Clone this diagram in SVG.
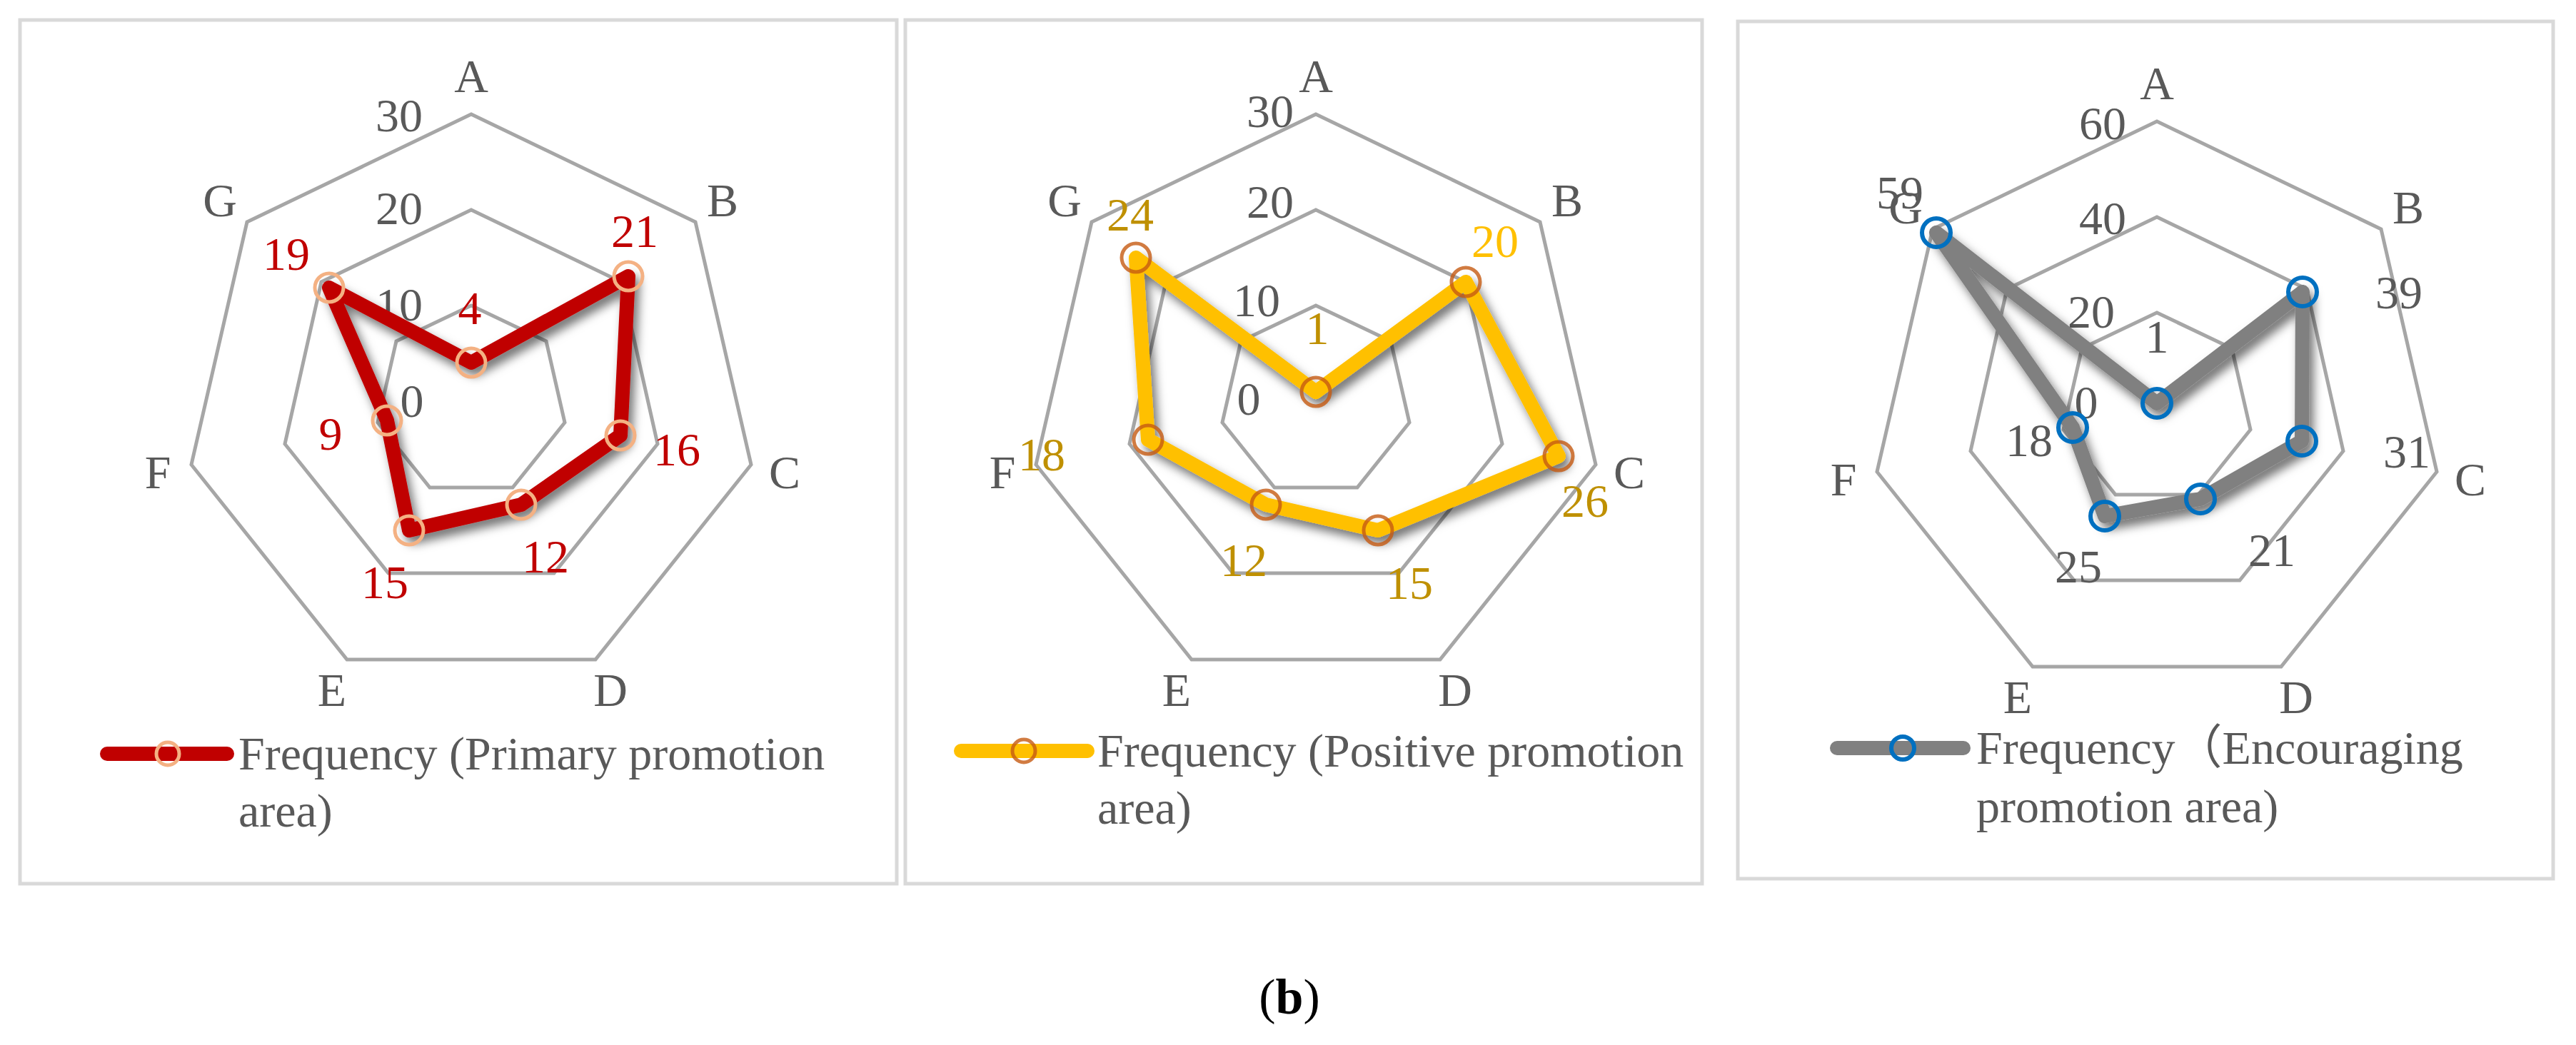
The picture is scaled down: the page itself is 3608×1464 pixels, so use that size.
<svg xmlns="http://www.w3.org/2000/svg" width="3608" height="1464" viewBox="0 0 3608 1464">
<defs>
<filter id="sh" x="-20%" y="-20%" width="140%" height="140%"><feDropShadow dx="6" dy="9" stdDeviation="7" flood-color="#000" flood-opacity="0.55"/></filter>
<style>
.frame{fill:#fff;stroke:#D9D9D9;stroke-width:5}
.ring{fill:none;stroke:#A6A6A6;stroke-width:5}
text{font-family:"Liberation Serif","Times New Roman",serif;font-size:66px;fill:#595959}
.ax,.rv,.dl{text-anchor:middle}
.red{fill:#C00000}
.gold{fill:#BF9000}
.yel{fill:#FFC000}
.l1{fill:none;stroke:#C00000;stroke-width:20;stroke-linejoin:round;stroke-linecap:round}
.l2{fill:none;stroke:#FFC000;stroke-width:20;stroke-linejoin:round;stroke-linecap:round}
.l3{fill:none;stroke:#808080;stroke-width:20;stroke-linejoin:round;stroke-linecap:round}
.m1{fill:none;stroke:#F4B183;stroke-width:5}
.m2{fill:none;stroke:#C55A11;stroke-width:5;stroke-opacity:0.8}
.m3{fill:none;stroke:#0070C0;stroke-width:6}
</style>
</defs>
<rect x="0" y="0" width="3608" height="1464" fill="#fff"/>
<g id="panel1">
<rect class="frame" x="28" y="28" width="1228" height="1210"/>
<g transform="translate(660,562)">
<polygon class="ring" points="0,-402 314,-251 392,89 174,362 -174,362 -392,89 -314,-251"/>
<polygon class="ring" points="0,-268 210,-167 261,60 116,241 -116,241 -261,60 -210,-167"/>
<polygon class="ring" points="0,-134 105,-84 131,30 58,121 -58,121 -131,30 -105,-84"/>
<text class="rv" x="-101" y="-378">30</text><text class="rv" x="-101" y="-248">20</text><text class="rv" x="-101" y="-113">10</text><text class="rv" x="-83" y="22">0</text>
<text class="ax" x="0" y="-433">A</text><text class="ax" x="352" y="-259">B</text><text class="ax" x="439" y="122">C</text><text class="ax" x="195" y="427">D</text><text class="ax" x="-195" y="427">E</text><text class="ax" x="-439" y="122">F</text><text class="ax" x="-352" y="-259">G</text>
<g filter="url(#sh)"><polygon class="l1" points="0,-54 220,-175 209,48 70,145 -87,181 -118,27 -199,-159"/></g>
<g class="m1"><circle cx="0" cy="-54" r="20"/><circle cx="220" cy="-175" r="20"/><circle cx="209" cy="48" r="20"/><circle cx="70" cy="145" r="20"/><circle cx="-87" cy="181" r="20"/><circle cx="-118" cy="27" r="20"/><circle cx="-199" cy="-159" r="20"/></g>
<text class="dl red" x="-2" y="-108">4</text><text class="dl red" x="229" y="-216">21</text><text class="dl red" x="288" y="90">16</text><text class="dl red" x="104" y="240">12</text><text class="dl red" x="-121" y="276">15</text><text class="dl red" x="-197" y="68">9</text><text class="dl red" x="-259" y="-184">19</text>
</g>
<line class="l1" x1="150" y1="1056" x2="318" y2="1056" stroke-width="18"/>
<circle class="m1" cx="235" cy="1056" r="16"/>
<text x="334" y="1078">Frequency (Primary promotion</text>
<text x="334" y="1158">area)</text>
</g>
<g id="panel2">
<rect class="frame" x="1268" y="28" width="1116" height="1210"/>
<g transform="translate(1843,562)">
<polygon class="ring" points="0,-402 314,-251 392,89 174,362 -174,362 -392,89 -314,-251"/>
<polygon class="ring" points="0,-268 210,-167 261,60 116,241 -116,241 -261,60 -210,-167"/>
<polygon class="ring" points="0,-134 105,-84 131,30 58,121 -58,121 -131,30 -105,-84"/>
<text class="rv" x="-64" y="-384">30</text><text class="rv" x="-64" y="-257">20</text><text class="rv" x="-83" y="-119">10</text><text class="rv" x="-94" y="19">0</text>
<text class="ax" x="0" y="-433">A</text><text class="ax" x="352" y="-259">B</text><text class="ax" x="439" y="122">C</text><text class="ax" x="195" y="427">D</text><text class="ax" x="-195" y="427">E</text><text class="ax" x="-439" y="122">F</text><text class="ax" x="-352" y="-259">G</text>
<g filter="url(#sh)"><polygon class="l2" points="0,-13 210,-167 340,77 87,181 -70,145 -235,54 -252,-201"/></g>
<g class="m2"><circle cx="0" cy="-13" r="20"/><circle cx="210" cy="-167" r="20"/><circle cx="340" cy="77" r="20"/><circle cx="87" cy="181" r="20"/><circle cx="-70" cy="145" r="20"/><circle cx="-235" cy="54" r="20"/><circle cx="-252" cy="-201" r="20"/></g>
<text class="dl gold" x="-260" y="-239">24</text><text class="dl yel" x="251" y="-202">20</text><text class="dl gold" x="377" y="162">26</text><text class="dl gold" x="131" y="277">15</text><text class="dl gold" x="-101" y="245">12</text><text class="dl gold" x="-384" y="97">18</text><text class="dl gold" x="2" y="-80">1</text>
</g>
<line class="l2" x1="1346" y1="1052" x2="1523" y2="1052" stroke-width="18"/>
<circle class="m2" cx="1434" cy="1052" r="16"/>
<text x="1537" y="1074">Frequency (Positive promotion</text>
<text x="1537" y="1154">area)</text>
</g>
<g id="panel3">
<rect class="frame" x="2434" y="30" width="1142" height="1201"/>
<g transform="translate(3021,572)">
<polygon class="ring" points="0,-402 314,-251 392,89 174,362 -174,362 -392,89 -314,-251"/>
<polygon class="ring" points="0,-268 210,-167 261,60 116,241 -116,241 -261,60 -210,-167"/>
<polygon class="ring" points="0,-134 105,-84 131,30 58,121 -58,121 -131,30 -105,-84"/>
<text class="rv" x="-76" y="-377">60</text><text class="rv" x="-76" y="-244">40</text><text class="rv" x="-92" y="-113">20</text><text class="rv" x="-99" y="14">0</text>
<text class="ax" x="0" y="-433">A</text><text class="ax" x="352" y="-259">B</text><text class="ax" x="439" y="122">C</text><text class="ax" x="195" y="427">D</text><text class="ax" x="-195" y="427">E</text><text class="ax" x="-439" y="122">F</text><text class="ax" x="-352" y="-259">G</text>
<g filter="url(#sh)"><polygon class="l3" points="0,-7 204,-163 203,46 61,127 -73,151 -118,27 -309,-246"/></g>
<g class="m3"><circle cx="0" cy="-7" r="20"/><circle cx="204" cy="-163" r="20"/><circle cx="203" cy="46" r="20"/><circle cx="61" cy="127" r="20"/><circle cx="-73" cy="151" r="20"/><circle cx="-118" cy="27" r="20"/><circle cx="-309" cy="-246" r="20"/></g>
<text class="dl" x="-360" y="-280">59</text><text class="dl" x="339" y="-140">39</text><text class="dl" x="350" y="83">31</text><text class="dl" x="161" y="221">21</text><text class="dl" x="-110" y="244">25</text><text class="dl" x="-179" y="67">18</text><text class="dl" x="0" y="-78">1</text>
</g>
<line class="l3" x1="2573" y1="1048" x2="2750" y2="1048" stroke-width="18"/>
<circle class="m3" cx="2665" cy="1048" r="16"/>
<text x="2768" y="1070" style="font-family:'Liberation Serif','Noto Sans CJK SC',serif">Frequency（Encouraging</text>
<text x="2768" y="1152">promotion area)</text>
</g>
<text x="1806" y="1420" text-anchor="middle" style="font-size:70px;fill:#000">(<tspan font-weight="bold">b</tspan>)</text>
</svg>
